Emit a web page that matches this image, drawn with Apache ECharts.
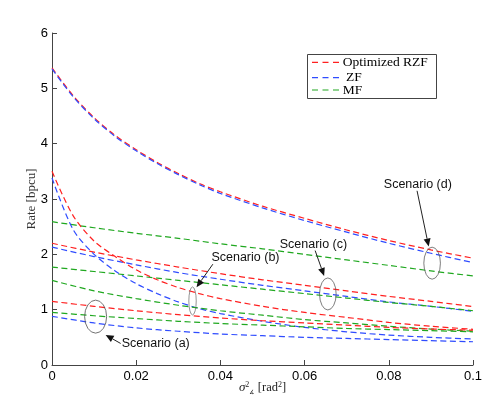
<!DOCTYPE html>
<html>
<head>
<meta charset="utf-8">
<script src="https://cdn.jsdelivr.net/npm/echarts@6/dist/echarts.min.js"></script>
<style>
html, body { margin: 0; padding: 0; background: #fff; }
#c { width: 485px; height: 396px; }
</style>
</head>
<body>
<div id="c"></div>
<script>
// x values (sigma^2 in rad^2)
var xs = [0, 0.01, 0.02, 0.03, 0.04, 0.05, 0.06, 0.07, 0.08, 0.09, 0.1];
var xsFine = [0, 0.005, 0.01, 0.015, 0.02, 0.025, 0.03, 0.035, 0.04, 0.05, 0.06, 0.07, 0.08, 0.09, 0.1];

// scenario (d)
var rzfD = [5.37, 4.87, 4.47, 4.15, 3.89, 3.66, 3.46, 3.28, 3.13, 2.87, 2.65, 2.44, 2.25, 2.08, 1.93];
var zfD  = [5.35, 4.85, 4.45, 4.13, 3.87, 3.64, 3.44, 3.26, 3.10, 2.84, 2.61, 2.40, 2.20, 2.02, 1.85];
var mfD  = [2.59, 2.48, 2.38, 2.29, 2.19, 2.10, 2.00, 1.90, 1.80, 1.70, 1.61];
// scenario (c)
var rzfC = [2.20, 2.04, 1.90, 1.77, 1.65, 1.54, 1.44, 1.34, 1.24, 1.15, 1.055];
var zfC  = [2.13, 1.96, 1.81, 1.67, 1.55, 1.44, 1.34, 1.24, 1.14, 1.06, 0.97];
var mfC  = [1.77, 1.69, 1.61, 1.53, 1.45, 1.37, 1.29, 1.21, 1.13, 1.06, 0.98];
// scenario (b)
var rzfB = [3.50, 2.70, 2.24, 1.96, 1.72, 1.54, 1.40, 1.29, 1.20, 1.06, 0.95, 0.86, 0.77, 0.70, 0.645];
var zfB  = [3.38, 2.45, 2.00, 1.70, 1.47, 1.29, 1.14, 1.02, 0.93, 0.79, 0.68, 0.60, 0.54, 0.50, 0.47];
var mfB  = [1.53, 1.34, 1.20, 1.08, 0.98, 0.90, 0.82, 0.76, 0.70, 0.65, 0.61];
// scenario (a)
var rzfA = [1.15, 1.06, 0.98, 0.91, 0.85, 0.80, 0.76, 0.72, 0.68, 0.65, 0.63];
var zfA  = [0.88, 0.76, 0.67, 0.61, 0.56, 0.53, 0.50, 0.48, 0.46, 0.44, 0.42];
var mfA  = [0.95, 0.89, 0.84, 0.79, 0.75, 0.72, 0.69, 0.66, 0.64, 0.62, 0.60];

var yTicks = [0, 1, 2, 3, 4, 5, 6];

// annotations, in data coordinates
var ellipses = [
    {c: [0.01036, 0.874], rx: 11, ry: 16.5},
    {c: [0.03338, 1.158], rx: 3.7, ry: 14},
    {c: [0.06552, 1.284], rx: 8.3, ry: 16},
    {c: [0.09029, 1.840], rx: 8.3, ry: 16}
];
var arrows = [
    {from: [0.01631, 0.389], to: [0.01274, 0.543]},
    {from: [0.03821, 1.822], to: [0.03433, 1.406]},
    {from: [0.0625, 2.068], to: [0.06464, 1.610]},
    {from: [0.08671, 3.148], to: [0.08948, 2.140]}
];
var labels = [
    {text: 'Scenario (a)', at: [0.02464, 0.3926]},
    {text: 'Scenario (b)', at: [0.04595, 1.9356]},
    {text: 'Scenario (c)', at: [0.0621, 2.183]},
    {text: 'Scenario (d)', at: [0.0869, 3.269]}
];

var RED = '#ff2020', BLUE = '#2f4cff', GREEN = '#20a820';
var NAME_RZF = 'Optimized RZF', NAME_ZF = 'ZF', NAME_MF = 'MF';

// legend entries (label, colour)
var legendItems = [
    {text: NAME_RZF, color: RED},
    {text: ' ' + NAME_ZF, color: BLUE},
    {text: NAME_MF, color: GREEN}
];

function pts(xv, yv) {
    return xv.map(function (x, i) { return [x, yv[i]]; });
}

function curve(name, color, xv, yv) {
    return {
        name: name,
        type: 'line',
        data: pts(xv, yv),
        symbol: 'none',
        showSymbol: false,
        smooth: 0.3,
        silent: true,
        lineStyle: {color: color, width: 1.2, type: [6, 3.5]},
        itemStyle: {color: color}
    };
}

var dom = document.getElementById('c');
var myChart = echarts.init(dom);

var option = {
    animation: false,
    backgroundColor: '#fff',
    grid: {left: 52, right: 12, top: 33, bottom: 31, outerBoundsMode: 'none'},
    xAxis: {
        type: 'value',
        min: 0,
        max: 0.1,
        interval: 0.02,
        name: '{i|σ}{sup|2}{sub|∡} [rad{sup|2}]',
        nameLocation: 'middle',
        nameGap: 16,
        nameMoveOverlap: false,
        nameTextStyle: {
            color: '#222',
            fontFamily: 'Liberation Serif',
            fontSize: 12.5,
            rich: {
                i: {fontFamily: 'Liberation Serif', fontStyle: 'italic', fontSize: 13, color: '#222'},
                sup: {fontFamily: 'Liberation Serif', fontSize: 8, color: '#222', verticalAlign: 'top', padding: [0, 0, 6, 0]},
                sub: {fontFamily: 'DejaVu Sans', fontSize: 6, color: '#222', verticalAlign: 'bottom', padding: [6, 0, 0, 0]}
            }
        },
        axisLine: {lineStyle: {color: '#444', width: 1}},
        axisTick: {inside: true, length: 5, lineStyle: {color: '#444'}},
        axisLabel: {margin: 5, color: '#000', fontFamily: 'Liberation Sans', fontSize: 13},
        splitLine: {show: false}
    },
    yAxis: {
        type: 'value',
        min: yTicks[0],
        max: yTicks[yTicks.length - 1],
        interval: 1,
        name: 'Rate [bpcu]',
        nameLocation: 'middle',
        nameGap: 14,
        nameRotate: 90,
        nameMoveOverlap: false,
        nameTextStyle: {color: '#333', fontFamily: 'Liberation Serif', fontSize: 13},
        axisLine: {show: true, lineStyle: {color: '#444', width: 1}},
        axisTick: {show: true, inside: true, length: 5, lineStyle: {color: '#444'}},
        axisLabel: {margin: 4, color: '#000', fontFamily: 'Liberation Sans', fontSize: 13},
        splitLine: {show: false}
    },
    series: [
        curve(NAME_RZF, RED, xsFine, rzfD),
        curve(NAME_ZF, BLUE, xsFine, zfD),
        curve(NAME_MF, GREEN, xs, mfD),
        curve(NAME_RZF, RED, xs, rzfC),
        curve(NAME_ZF, BLUE, xs, zfC),
        curve(NAME_MF, GREEN, xs, mfC),
        curve(NAME_RZF, RED, xsFine, rzfB),
        curve(NAME_ZF, BLUE, xsFine, zfB),
        curve(NAME_MF, GREEN, xs, mfB),
        curve(NAME_RZF, RED, xs, rzfA),
        curve(NAME_ZF, BLUE, xs, zfA),
        curve(NAME_MF, GREEN, xs, mfA)
    ]
};
myChart.setOption(option);

// annotations placed through the grid's coordinate system
function toPx(p) {
    return myChart.convertToPixel({gridIndex: 0}, p);
}

var g = [];
// legend box + entries
g.push({type: 'rect', shape: {x: 307.5, y: 54.5, width: 129, height: 44},
    style: {fill: '#fff', stroke: '#444', lineWidth: 1}, z: 10});
var legendRows = [62.3, 77.7, 90];
legendItems.forEach(function (it, i) {
    var y = legendRows[i];
    g.push({type: 'line', shape: {x1: 312, y1: y, x2: 339, y2: y},
        style: {stroke: it.color, lineWidth: 1.2, lineDash: [6, 4.5]}, z: 11});
    g.push({type: 'text', x: 342.7, y: y, style: {
        text: it.text, fill: '#000', font: '13.5px "Liberation Serif"',
        align: 'left', verticalAlign: 'middle'
    }, z: 11});
});

ellipses.forEach(function (e) {
    var c = toPx(e.c);
    g.push({
        type: 'circle', x: c[0], y: c[1], scaleX: e.rx / e.ry, scaleY: 1,
        shape: {cx: 0, cy: 0, r: e.ry},
        style: {fill: 'none', stroke: '#555', lineWidth: 1, strokeNoScale: true},
        z: 10
    });
});

arrows.forEach(function (a) {
    var p0 = toPx(a.from), p1 = toPx(a.to);
    var dx = p1[0] - p0[0], dy = p1[1] - p0[1];
    var len = Math.sqrt(dx * dx + dy * dy);
    var ux = dx / len, uy = dy / len;
    var hl = 8, hw = 3.5;
    var bx = p1[0] - ux * hl, by = p1[1] - uy * hl;
    g.push({type: 'line', shape: {x1: p0[0], y1: p0[1], x2: bx, y2: by},
        style: {stroke: '#222', lineWidth: 1}, z: 10});
    g.push({type: 'polygon', shape: {points: [
        [p1[0], p1[1]],
        [bx - uy * hw, by + ux * hw],
        [bx + uy * hw, by - ux * hw]
    ]}, style: {fill: '#111'}, z: 10});
});

labels.forEach(function (l) {
    var p = toPx(l.at);
    g.push({type: 'text', x: p[0], y: p[1], style: {
        text: l.text, fill: '#111', font: '12.5px "Liberation Sans"',
        align: 'center', verticalAlign: 'middle'
    }, z: 10});
});

myChart.setOption({graphic: g});
</script>
</body>
</html>
